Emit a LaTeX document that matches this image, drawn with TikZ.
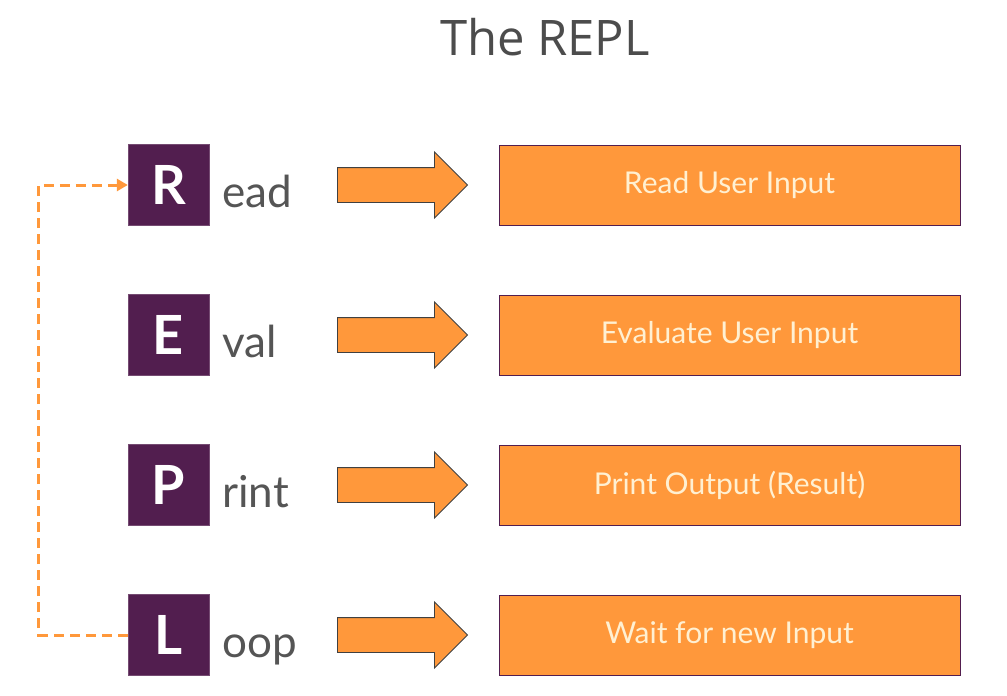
\documentclass[tikz,border=0pt]{standalone}
\usepackage{fontspec}
\setmainfont{Lato}
\newfontfamily\titlefont{Open Sans}
\usetikzlibrary{positioning,shapes.arrows,arrows.meta}

\definecolor{plum}{HTML}{521E4F}
\definecolor{tangerine}{HTML}{FF983B}
\definecolor{cream}{HTML}{FFF0D2}
\definecolor{slate}{HTML}{555555}

\tikzset{
  letterbox/.style={fill=plum, draw=plum!80!white, minimum width=81pt, minimum height=81pt,
    inner sep=0pt, text=white, font=\fontsize{54}{54}\selectfont\bfseries},
  restlbl/.style={text=slate, inner sep=0pt, font=\fontsize{44}{44}\selectfont},
  bigarrow/.style={single arrow, fill=tangerine, draw=black!75, line width=0.9pt,
    minimum height=130pt, single arrow head extend=15.5pt,
    single arrow tip angle=90, inner sep=0pt, anchor=tail},
  taskbox/.style={fill=tangerine, draw=plum, line width=1pt, minimum width=461pt,
    minimum height=80pt, text=cream, font=\fontsize{30}{30}\selectfont},
  loopline/.style={tangerine, line width=3pt, dash pattern=on 10pt off 6pt,
    -{Triangle[length=11pt,width=12pt]}}
}

\begin{document}
\begin{tikzpicture}[x=1pt,y=-1pt]
\useasboundingbox (0,0) rectangle (1007,696);
\fill[white] (0,0) rectangle (1007,696);

\node[text=black!70, inner sep=0pt, anchor=base, font=\titlefont\fontsize{49}{49}\selectfont]
  (title) at (545,55) {The REPL};

% one row per step
\foreach \ltr/\rest/\txt/\nm/\y in {R/ead/Read User Input/rd/185,
                                     E/val/Evaluate User Input/ev/335,
                                     P/rint/Print Output (Result)/pr/485,
                                     L/oop/Wait for new Input/lp/635} {
  \node[letterbox] (\nm) at (168.5,\y) {\ltr};
  \node[restlbl, anchor=base west] (\nm-rest) at ([xshift=13pt,yshift=-22pt]\nm.east) {\rest};
  \node[bigarrow] (\nm-arr) at (337,\y) {\rule{0pt}{34pt}};
  \node[taskbox] (\nm-task) at (729.5,\y) {\txt};
}

% back to read
\draw[loopline] (lp.west) -- ++(-89,0) |- (rd.west);
\end{tikzpicture}
\end{document}
